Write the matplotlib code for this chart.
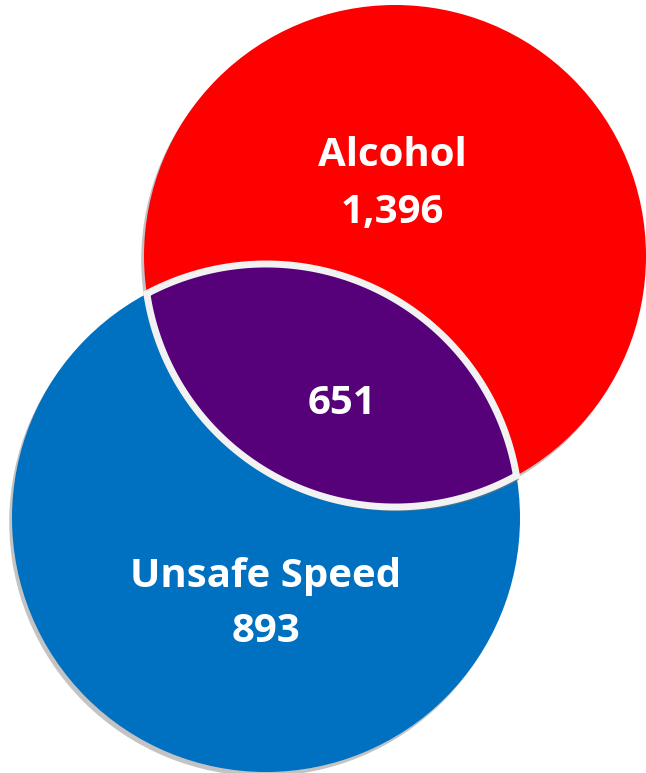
import numpy as np
import matplotlib
matplotlib.use("Agg")
import matplotlib.pyplot as plt
from matplotlib.patches import Circle, Polygon
import matplotlib.patheffects as pe

# Data
sets = ["Alcohol", "Unsafe Speed"]
only_values = [1396, 893]
overlap_value = 651
colors = ["#FF0000", "#0070C0"]
overlap_color = "#560079"

# Layout (pixel space)
W, H = 646, 773
centers = [(395, 256), (266, 518)]
radii = [251, 254]

fig = plt.figure(figsize=(W / 100, H / 100), dpi=100)
ax = fig.add_axes([0, 0, 1, 1])
ax.set_xlim(0, W)
ax.set_ylim(H, 0)
ax.set_aspect("equal")
ax.axis("off")

shadow = [pe.SimplePatchShadow(offset=(-2, -3), shadow_rgbFace="#888888", alpha=0.5), pe.Normal()]

for (cx, cy), r, c in zip(centers, radii, colors):
    ax.add_patch(Circle((cx, cy), r, facecolor=c, edgecolor="none", path_effects=shadow))

# lens
(x1, y1), (x2, y2) = centers
r1, r2 = radii
d = np.hypot(x2 - x1, y2 - y1)
a = (r1**2 - r2**2 + d**2) / (2 * d)
h = np.sqrt(r1**2 - a**2)
ux, uy = (x2 - x1) / d, (y2 - y1) / d
px, py = x1 + a * ux, y1 + a * uy
P = np.array([[px + h * uy, py - h * ux], [px - h * uy, py + h * ux]])

def arc(cx, cy, r, p_from, p_to, toward):
    t0 = np.arctan2(p_from[1] - cy, p_from[0] - cx)
    t1 = np.arctan2(p_to[1] - cy, p_to[0] - cx)
    tt = np.arctan2(toward[1] - cy, toward[0] - cx)
    for sgn in (1, -1):
        dt = (t1 - t0) % (2 * np.pi) if sgn == 1 else -((t0 - t1) % (2 * np.pi))
        ts = t0 + np.linspace(0, dt, 200)
        if np.min(np.abs(np.angle(np.exp(1j * (ts - tt))))) < 0.05 and abs(dt) < np.pi:
            return np.c_[cx + r * np.cos(ts), cy + r * np.sin(ts)]
    ts = t0 + np.linspace(0, ((t1 - t0 + np.pi) % (2 * np.pi)) - np.pi, 200)
    return np.c_[cx + r * np.cos(ts), cy + r * np.sin(ts)]

arc1 = arc(x1, y1, r1, P[0], P[1], (x2, y2))
arc2 = arc(x2, y2, r2, P[1], P[0], (x1, y1))
lens = np.vstack([arc1, arc2])
ax.add_patch(Polygon(lens, closed=True, facecolor=overlap_color, edgecolor="#F2F2F2",
                     linewidth=5, joinstyle="miter",
                     path_effects=[pe.SimplePatchShadow(offset=(2, -3), shadow_rgbFace="#777777", alpha=0.6), pe.Normal()]))

font = dict(family="Open Sans", weight="bold", color="white", ha="center", va="center", fontsize=29)
ax.text(392, 155, sets[0], **font)
ax.text(392, 212, f"{only_values[0]:,}", **font)
ax.text(342, 404, f"{overlap_value:,}", **font)
ax.text(266, 577, sets[1], **font)
ax.text(266, 632, f"{only_values[1]:,}", **font)

fig.savefig("out.png", dpi=100)
